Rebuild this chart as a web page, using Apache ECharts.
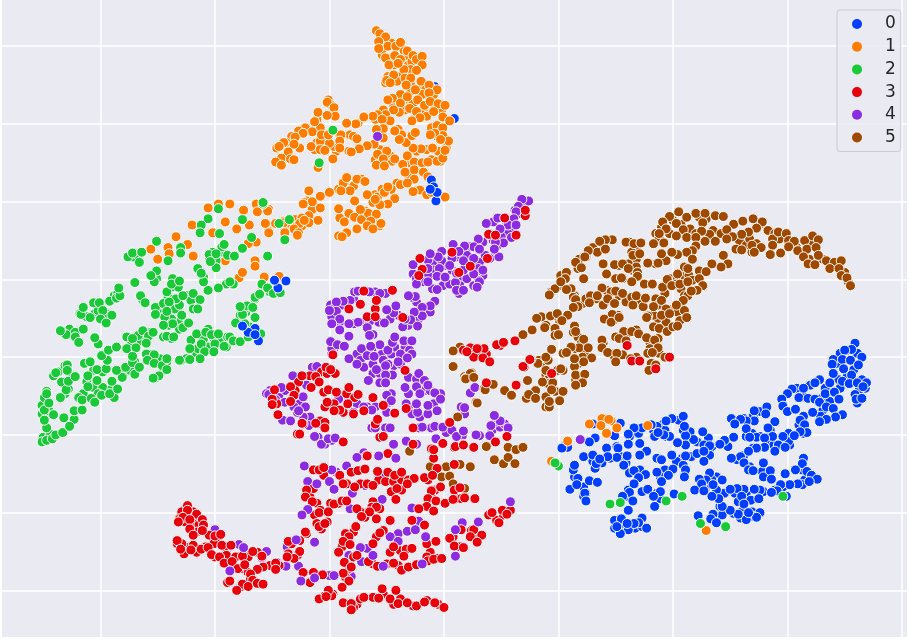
<!DOCTYPE html>
<html>
<head>
<meta charset="utf-8">
<script src="https://cdn.jsdelivr.net/npm/echarts@6/dist/echarts.min.js"></script>
<style>html,body{margin:0;padding:0;background:#fff}#main{width:909px;height:639px}</style>
</head>
<body>
<div id="main"></div>
<script>
// values, one list per class
const class0 = [[35.9,1.8],[35.6,1],[35,.9],[34,-.3],[34.8,-.3],[35.5,-.4],[36.5,0],[36.2,-1],[33.9,-.9],[34.9,-1.5],[34,-2.1],[35.6,-2.3],[34.8,-3.1],[35.4,-3.4],[36.1,-3.3],[36.9,-3.3],[36.6,-3.8],[36,-5.4],[36.5,-5.3],[32.8,-2.9],[32.4,-3.3],[33.7,-3.3],[31.4,-4],[30.4,-4.1],[30,-4.7],[29.5,-5.4],[29.6,-6.3],[30,-7],[30.7,-6.7],[31,-5.2],[31.8,-5.3],[32.4,-5.4],[33.3,-4.7],[32.8,-5.8],[33.4,-6.4],[32.2,-7.1],[34.1,-4.5],[34.5,-5.4],[34,-6.6],[34.8,-7.4],[34.2,-7.7],[33.4,-8],[32.8,-8.3],[31.1,-8.1],[31.5,-8.7],[28.2,-6.4],[27.1,-6.9],[28.1,-7.3],[27.1,-8.2],[28.9,-8.3],[26.4,-8.2],[25.9,-8],[25.4,-8.6],[26.4,-9.2],[28.3,-9.1],[28.7,-10.2],[27.3,-10.3],[28,-10.4],[26.7,-10.3],
[30.1,-10.8],[31.7,-9.7],[31.1,-9.6],[30.6,-10.1],[29.6,-10.2],[29.2,-11.3],[29.8,-11.6],[28.9,-12.1],[28,-11.6],[27.3,-11.7],[26.6,-12.1],[25.9,-12.8],[25.1,-13],[26.2,-13.6],[27.9,-13.6],[26.6,-14.5],[27,-14.6],[27.9,-15.4],[28.5,-14.6],[28.6,-15.7],[29.8,-15],[31.3,-13.7],[30.7,-14.5],[31.7,-14.7],[32.1,-15.2],[32.6,-15.7],[31.3,-16.4],[31.9,-16],[30.9,-16.3],[30.2,-16.4],[29.4,-16.4],[29.1,-17.2],[29.9,-17.9],[28.6,-17.4],[27.1,-17],[26.2,-17],[25.6,-16.9],[25,-17],[26,-17.9],[26.8,-18.4],[27.5,-18.2],[26.2,-18.9],[27.6,-20],[26.4,-20.9],[25.7,-20.2],[25,-19.7],[24.3,-19.2],[23.5,-20.2],[23.3,-20.8],[22.2,-20.4],[23.8,-21.3],[27.3,-20.6],[26.6,-20],[24,-18.2],[23.4,-17.9],[24.3,-15.8],[23.2,-14.9],[22.9,-15.8],[22.3,-15.7],[22.5,-16.3],[21.9,-17.1],[22.7,-17.2],[23.5,-16.4],
[25.3,-10.3],[24.8,-11.5],[24.5,-10.7],[24.1,-11.2],[23.2,-11.4],[22.6,-9.6],[22.7,-13.4],[22.1,-12.4],[22.7,-12.1],[21.8,-10.6],[21.1,-10.1],[21.1,-11.3],[21.1,-12.7],[19.9,-12.6],[19,-13.2],[20,-14.4],[19.6,-15.2],[21.1,-14.5],[21,-15.4],[20.9,-7.6],[19.9,-7.9],[19.4,-8.2],[21,-8.9],[20.4,-11],[19.7,-10.2],[19.2,-10],[18.6,-8.9],[18.7,-9.7],[18.1,-8.7],[17.3,-9.1],[16.6,-9.1],[16.1,-9.9],[14.9,-10.1],[13.2,-10.4],[12.7,-10.9],[14.2,-11.7],[15.2,-11.7],[16.1,-11.2],[17.1,-11.1],[17.7,-12.1],[17.1,-12.6],[16,-12.7],[15.1,-12.9],[14.3,-12.8],[15.7,-13.9],[16.6,-14.6],[17.6,-15.1],[18.6,-14.8],[17,-15.5],[19,-16],
[15.4,-8.5],[13,-8.6],[10.8,-11.6],[10.3,-11.7],[12.2,-12.8],[13,-12.6],[11.4,-13.9],[13.3,-13.7],[13.6,-13.1],[11.7,-15.6],[12.7,-15.9],[13.4,-16.1],[11,-17],[11.6,-16.4],[12.3,-17.5],[12.4,-18.5],[16.6,-16.3],[16.2,-17.4],[15.6,-17.9],[17.3,-17.3],[16.5,-18.5],[17.8,-17],[18.9,-17.3],[18.3,-17.9],[20.1,-17.6],[18.4,-19.2],[16.1,-19.7],[14.9,-21],[15.5,-20.8],[17.3,-20.7],[17,-21.3],[16.1,-22.2],[15.4,-22.7],[17.7,-22],[15.1,-21.8],[16.6,-21.4],[16,-21.4],[-.8,34.8],[.9,30.7]];
const under0 = [[35.2,.9],[36.1,.5],[34.6,.5],[34.3,-.8],[35.8,-1.6],[35.2,-2.5],[34.5,-2.9],[36.5,-2.9],[36.8,-4],[36.2,-4.4],[35.9,-4.8],[36.1,-5.9],[34.6,-4],[34.1,-4.6],[33.3,-4],[32,-3.6],[30.8,-4],[29.6,-6.1],[31.4,-5.1],[33,-5.3],[33.7,-5.7],[33.1,-6.8],[32.9,-7.6],[31.4,-7.6],[31,-8.7],[31.4,-9.8],[27.6,-7],[27,-7.6],[26.2,-7.9],[25.1,-7.9],[26.9,-9.8],[27.6,-10.2],[26.4,-10.2],[28.5,-9.4],[28.2,-11.1],[28.8,-11.3],[30.1,-9.8],[29.7,-11.1],[30.2,-11.3],[27,-11.7],[25.6,-13.2],[26.2,-12.6],[26.7,-14.1],[27.8,-14.7],[31.4,-13],[31.3,-14.5],[31.9,-15.4],[31.5,-15.8],[29.6,-16.7],[28.9,-17.1],[27.9,-17.3],[27.6,-17.1],[26.4,-17.5],[25.4,-17.5],[25.7,-18.6],[26.9,-19.9],[26,-19.9],[25.3,-20.1],[24.5,-19.9],[24.1,-19.2],[24.3,-20.3],[27,-20.5],[25.9,-20.7],[24.5,-17.5],[23.8,-17.1],[22.8,-17.1],[22.9,-16.4],[23.8,-15.4],[23.4,-15.8],
[21.2,-10.2],[21.5,-9.6],[20.9,-9.4],[22.1,-10.9],[23.1,-10.4],[23.4,-11.5],[22.7,-11.3],[23.2,-12.6],[21.6,-12.8],[20.8,-13],[20.3,-13.4],[18.6,-13],[19.3,-14.5],[18.6,-14.9],[18.9,-15.4],[20.9,-13.9],[20.5,-8.1],[19.2,-8.5],[18.3,-9.4],[19.3,-9.4],[18.4,-10.2],[19.4,-10.2],[16.2,-10.2],[17,-9.8],[15.1,-11.5],[15.4,-12.8],[14.5,-13],[15.9,-13.6],[16.2,-14.9],[17.1,-14.5],[13,-13.4],[13.2,-14.3],[13.8,-13.6],[12.2,-16.7],[12.4,-17.5],[12.2,-17.9],[11.4,-15.4],[11.3,-14.5],[10.6,-11.3],[16.1,-17.1],[15.9,-17.9],[18.6,-17.5],[18.9,-18.2],[14.9,-22],[15.4,-22.2],[16.7,-22],[17.3,-21.8],[15.7,-21.4]];

const class1 = [[-5.9,42],[-5.6,41.6],[-5.1,41.2],[-5.7,40.6],[-5.4,39.6],[-4.9,40],[-4.2,40],[-3.8,40.5],[-3.2,39.4],[-5.7,39.7],[-5.1,38.5],[-4.3,38.8],[-3.8,38.3],[-4.8,37.6],[-3.5,37],[-4,37.8],[-2.7,38.8],[-2.4,38.3],[-1.9,38.7],[-1.9,37.6],[-2.4,36.9],[-4.4,36.3],[-5,35.6],[-4.7,35.3],[-3.4,35.9],[-2.9,35.9],[-2,35.5],[-3.3,35],[-2.5,34.4],[-1.3,35],[-.6,34.4],[-1.3,34],[-3.8,33.8],[-4.5,33.3],[-4.9,33.1],[-3.8,32.7],[-2.3,33.1],[-3.2,33.5],[-1.7,32.4],[-1.2,32.9],[-.5,32.6],[.1,32.4],[-3,32],[-3.9,31.5],[-4.4,31.8],[-5.1,31.2],[-5.8,31.2],[-6.2,31],[-7,30.9],[-4.7,30.4],[-5.4,30.6],[-2.4,31.6],[-1.5,31],[-2.1,30.8],[-2.8,30.4],[-.9,31.6],[-.1,30.9],[.5,30.4],[-.6,29.8],[-.1,29.5],[-.1,28.5],[-.8,28.8],[-1.2,28.6],[.4,27.8],[-.3,28],[-1,26.9],[-2,26.8],[-2.7,26.9],[-3.3,27.6],[-2.8,28.5],[-2.5,28.9],[-3.9,28],[-4.3,29.1],[-5.3,29.4],[-5.9,29.3],[-5.3,28.2],[-6.1,27.4],[-6.7,27.2],[-7.4,26.8],[-8.1,26.4],[-5,26.5],[-5.8,26.1],[-5.3,25.5],[-4.3,25.5],[-5.9,24.7],[-5.2,24.6],[-3.2,25.9],[-2.6,25.1],[-1.9,25],[-1.4,25.1],[-.6,25.2],[-.1,25.6],[.1,26.6],[-2.6,24.1],[-3.4,23.8],[-1.8,23.8],[-1.4,23.2],[-2.6,22.9],[-3.8,22.2],[-3.2,22.4],[-2.1,21.5],[-2.7,21.3],[-1.5,20.9],[-1.1,21.2],[.1,20.6],
[-7.7,30],[-8.5,30.1],[-7.6,28.1],[-9,28.6],[-9.1,27.8],[-10,27.5],[-11,31.5],[-10.2,32.8],[-9.6,32.1],[-9.5,31],[-10.2,31.1],[-11.3,30.3],[-11.5,29],[-12.3,28.8],[-13,28.3],[-13.1,27.4],[-10.7,28.6],[-10.1,28.6],[-11.6,27.1],[-10.8,26.7],[-10.4,26.6],[-13.6,26.4],[-14,27.6],[-14.4,27.1],[-14.2,25.6],[-13.4,25.5],[-14.7,25.1],[-14.2,24.7],[-13.1,25.4],[-9.7,25.5],[-9.1,26.9],[-11,24.4],
[-11.8,21.4],[-12.2,19.9],[-11.5,20],[-10.8,20.7],[-10,21.2],[-10.8,19.2],[-11,17.6],[-11.8,17.3],[-12.4,17.9],[-12.6,17.2],[-13.1,16.5],[-12.7,16],[-13.9,16.2],[-14.6,17.3],[-15.3,19],[-15.6,17.2],[-15.3,16.2],[-8.8,22.4],[-8.2,21.4],[-9,21.4],[-8.5,23.1],[-7.6,22.9],[-6.9,22.6],[-6.7,20.9],[-5.8,20.6],[-5.2,21.2],[-4.9,21.9],[-4.3,20.4],[-4.9,19.7],[-5.6,19.6],[-6,20.3],[-7.8,20.1],[-9.2,19.1],[-8.3,18.5],[-7.8,18],[-7.2,17.7],[-6.6,18.5],[-5.9,18.4],[-5.5,17.2],[-6.4,17.5],[-8.7,17.4],[-6.7,16.9],[-7.6,16.5],[-8.9,15.5],[-7.3,19],[-6.2,16.5],
[-25.6,13.9],[-25,12.6],[-24.1,14.1],[-24,13.3],[-23.4,15.5],[-22,17],[-21.9,13],[-22.4,14.5],[-20.6,19.2],[-19.7,19.7],[-18.7,19.7],[-20.2,16],[-19.1,17.4],[-18.1,16.5],[-17.5,18.9],[-17,17],[-16.4,19.7],[-16.3,18.7],[-15.4,18.8],[-15.6,17.2],[-15.3,16],[-14.7,17.2],[-14,17.3],[-13.9,16],[-12.8,15.7],[-12.3,19.7],[-12.2,17.6],[-16.4,14.8],[-17.1,14.6],[-19.1,12.4],[-17.9,10.2],[-17.6,10.9],[-16.5,12.4],[-16.5,11.7],[-15.7,10.3],[-14.4,10.4],
[13.8,-7.9],[14.6,-8.2],[13.7,-8.8],[14.2,-9.8],[12.7,-8.6],[15.1,-9.1],[17.8,-8.8],[10.8,-10.8],[9.4,-13.4],[22.9,-22.3],[14.4,-8]];
const under1 = [[-5.4,40.8],[-5.1,40.2],[-4.6,40.4],[-3.5,39.5],[-3.2,38.7],[-4.5,38.5],[-5.4,38.9],[-4.4,37.6],[-3.1,37.6],[-2.8,38],[-2.1,38],[-2.9,37],[-3.8,36.1],[-4.9,36.1],[-5.1,35.3],[-4.1,35.5],[-2.9,35],[-2,34.6],[-1.6,34.4],[-1.1,34.6],[-2.9,34.2],[-3.5,33.1],[-4.4,32.5],[-2.7,32.7],[-1.9,33.8],[-.9,33.8],[-.8,32.1],[-.2,31.8],[-1.8,31.8],[-3.4,31.8],[-5.3,31.8],[-6,30.6],[-5.1,30.3],[-4,29.3],[-3.7,28.6],[-1.1,29.5],[-.6,28.4],[-.1,28.6],[.2,26.9],[-1.5,26.7],[-.5,26.5],[-2.4,26.5],[-.3,25.2],[-2.9,25],[-1.1,25.4],[-5.6,26.7],[-6,25.4],[-4.7,25.9],[-4.5,25.2],[-5.6,25],[-3.6,24.8],[-3.1,23.3],[-4.1,22.4],[-2.4,21.4],[-7.3,26.9],[-8.3,26.5],[-9.4,26.5],[-9.2,27.4],[-9.6,27.1],[-9.1,28.6],[-8.2,28.6],[-7.9,28.4],[-7.5,30.1],[-10.2,28],[-11.1,27.6],[-11.3,26.7],[-10.8,27.8],[-12.1,29.5],[-12.7,29.1],[-13.3,28.4],[-12.6,26.9],[-13.8,27.6],[-14.6,26.9],[-14.3,25.2],[-10.1,33.1],[-9.9,32.5],[-11.1,30.6],[-10.8,29.5],
[-8.9,22.4],[-9.2,21.6],[-8.6,22],[-7.9,22],[-7.2,22.9],[-6,20.9],[-5.4,21.6],[-4.6,21.6],[-6.2,19.9],[-7.3,18.2],[-6.9,18.8],[-6.2,18.2],[-6,17.1],[-5.6,16.9],[-9.2,15.6],[-8.5,16],[-9.1,17.9],[-11.4,19.7],[-12,20.1],[-11.5,19],[-12.3,17.7],[-13,17.7],[-12.4,16.9],[-14,17.5],[-13.4,17.1],[-11.8,18.2]];

const class2 = [[-35.1,-10.9],[-34.7,-10.7],[-34.2,-10.5],[-33.9,-10],[-33.3,-9.7],[-34.7,-9.1],[-34.9,-8.1],[-34.1,-7.4],[-33.2,-7.8],[-32.3,-8],[-32.7,-8.9],[-32.3,-6.9],[-31.6,-6.8],[-34.9,-6.8],[-34.5,-5.9],[-34.7,-4.7],[-33.5,-5.2],[-33,-4.2],[-32.8,-3.1],[-32.9,-1],[-32.9,-1.7],[-33.9,-2],[-32.2,-2.5],[-31.1,-2.4],[-30.9,-.6],[-30.3,-1.6],[-30.3,-3],[-31.1,-3.8],[-31.6,-5.5],[-30.8,-5.3],[-30.5,-5.8],[-29.9,-4.9],[-29,-3.1],[-29.2,-4.7],[-28.5,-4.1],[-28.1,-2.6],[-28.6,-1.7],[-27.8,-1.3],[-29.5,-1.5],[-27.2,-.7],[-27,-2.2],[-26.6,-1.3],[-29.4,-.4],[-29.9,.2],[-29.3,.9],[-28.6,1.3],[-30.2,1.7],[-30.5,2.5],[-27.7,2.6],[-27.2,2.4],[-26.3,3.4],[-25.8,2.7],[-26,1.8],[-27.7,1.1],[-26.9,1.2],[-27.2,.1],[-26,.4],[-25.3,.3],[-25.9,-.4],[-25.3,-.8],[-24.6,-1.1],[-24.2,-.2],[-24.2,-1.6],[-24.9,-2.4],[-25.4,-2.7],
[-33,2.9],[-33.5,3.4],[-32.2,2.6],[-31.9,1.9],[-31.5,3.6],[-30.9,5.1],[-31.7,5.5],[-31.5,6.4],[-30.6,7],[-30.1,7],[-29.8,6],[-30,4.9],[-29.5,4.4],[-29,5.4],[-29.2,7.2],[-28.6,7.6],[-28.3,7.9],[-28.4,8.9],[-27,9.6],[-26.5,7.9],[-26.1,7],[-25.2,6.4],[-25.2,5.5],[-24.5,6.9],[-24.2,8.4],[-23.8,9.4],[-23.1,9.8],[-23.4,7.5],[-22.8,7.9],[-21.9,8.2],[-21.3,7.4],[-21.5,6.2],[-24,7.1],[-22.9,5.4],[-24.2,5.9],[-23.7,4.3],[-24.5,4.1],[-22.8,3.8],[-22.3,4.4],[-24.2,2.7],[-23.6,2.6],[-25.4,3.2],[-22.1,2.2],[-21.6,3],[-20.8,3.2],[-20.3,2.9],[-19.7,3],[-21.2,1.7],[-20,1.7],[-20.9,.7],[-20.1,.7],[-22.2,1.1],[-21.3,-.2],[-22.2,-.3],[-23.1,-.4],[-19.2,1.4],[-18.7,2.6],[-18.4,2.1],[-17.8,2],[-17.4,4.3],[-17.1,2.6],[-16,3],[-18.2,4.4],[-17.6,5.5],[-16.5,5.1],[-17.2,6.6],[-16.7,6.4],[-17.8,6.5],[-16.5,7.7],[-16.1,8.1],[-15.9,9.4],[-15.4,8.9],[-14.9,8.2],[-14.3,8.3],[-18.7,9.7],[-19.7,8.9],[-20.6,8.6],[-21,9.7],[-21.2,10.8],[-19.9,11.5],[-20.5,13.2],[-20.4,12.3],[-19.9,13.3],[-19.2,14.5],[-18.3,13],[-17.6,14],[-16.8,15.4],[-17.6,17.7],[-15.8,19.7],[-15.4,13],[-19.7,19.1],[-20.6,17.8],[-21.2,17],[-21.3,16],[-19.6,15.9],[-23,14.1],[-23,13.4],[-25.1,14.9],[-25.1,11.1],[-25.3,9.7],[-25.6,10.5],[-27.2,13.4],[-26.4,13.5],[-26.6,12.2],[-24.1,12.4],[-13.5,17.7],[-13.9,15.1],
[-9.7,29.2],[-10.9,25],[-14.4,17.2],[-15.8,19.9],
[10,-14],[9.7,-13.6],[15.4,-18.7],[14.5,-18.9],[22.4,-21.4],[24.6,-21.8],[29.6,-17.9],[19.4,-18.5],[20.8,-17.9]];
const under2 = [[-35,-10.3],[-34.4,-9.9],[-35.1,-6.2],[-35.1,-7.3],[-34.5,-6.9],[-34.9,-5.2],[-34.7,-4.4],[-33.1,-4.7],[-32.8,-4.1],[-33.4,-3.2],[-32.5,-2.6],[-34.1,-2.4],[-33.7,-1.9],[-33.1,-1.1],[-31.5,-4.7],[-31.9,-5.2],[-31.2,-3.2],[-30.6,-3.9],[-29.8,-3.9],[-30.2,-4.7],[-28.8,-5.2],[-29,-4.1],[-28,-2.1],[-27.4,-1.7],[-27,-.6],[-31.4,-.8],[-29.8,-1.9],[-30.6,-1.7],[-26.6,2.1],[-26,2.6],[-25.6,3.2],[-26.7,2.8],[-27.3,1.7],[-25.4,.4],[-24.8,-.2],[-24.2,-.6],[-25.1,-2.6],[-24.5,-1.7],[-22.9,-.4],[-22.5,-.2],[-21.6,.4],[-20.6,1.3],[-21,2.4],[-21.5,1.1],[-19.6,2.1],[-19,1.3],[-18.9,2.6],[-20.2,2.6],[-20.6,3.6],[-24,4.1],[-23.2,4.5],[-23.8,4.9],[-23.1,3.6],[-24.5,2.6],[-23.8,2.4],[-23.5,6.2],[-23.1,6.7],[-24.1,7.7],[-23.8,9],[-23.7,10.1],[-23.2,9],[-22.5,7.9],[-22.1,7.3],[-21.9,6.2],[-24.8,5.6],[-24.4,5.2],[-26.3,7.3],[-31.8,5.6],[-31.2,5.2],[-30.5,5.6],[-30.2,6],[-29.5,5.6],[-32.7,3.6],[-32.2,3.2],[-33.3,3.2],[-28.8,7.9],[-28.5,8.2],[-27.2,12.9],[-26.7,13.1],[-27.6,12.9],[-25.4,10.7],[-25.1,10.1],[-20.5,12.4],[-19.9,12.4],[-20.2,13.5],[-19.3,13.5],[-18.9,13.1],[-19.4,14.2],[-21.5,11.4],[-21,10.3],[-19,9.4],[-18.4,9.4],[-16.5,7.5],[-15.8,8.8],[-15.2,8.4],[-14.7,8.6],[-17.3,5.8],[-17.8,5.4],[-17.4,6.2],[-17,3.9],[-17.7,4.3]];

const class3 = [[-4.5,8.6],[-7,8.5],[-6,6.2],[-8.3,6.2],[-7.3,6.8],[-5.9,7.3],[-6.7,5.2],[-6,5.2],[-3.6,5.1],[-9.7,.3],[-2.1,12.7],[-1.9,11.3],[-2.2,10.5],[.7,13.5],[1.3,10.9],[2.3,11.7],[3.9,15.8],[4.5,15.7],[5.3,17.9],[7.1,18.2],[6.3,15.7],[3.8,12.7],[7.1,18.9],
[-12.4,-2.4],[-11.2,-2.5],[-10.3,-1.3],[-9.9,-1.6],[-10.9,-3.2],[-11.6,-3.9],[-13.4,-3.8],[-14.8,-4.2],[-13.1,-4.9],[-13.4,-5.7],[-15,-6.1],[-14.5,-7.4],[-12.4,-8.5],[-11.2,-8.5],[-12.6,-9.9],[-10.4,-9.1],[-9.1,-6.8],[-9.6,-6.9],[-10.2,-5.8],[-10.1,-4.2],[-9.4,-4.5],[-8.3,-3.9],[-7.5,-4.8],[-8.4,-6],[-7.9,-7.3],[-7,-6.9],[-6.2,-5.2],[-5.3,-6.2],[-4.3,-7.2],[-5.8,-8],[-3.3,-6.6],[-5.3,-10.2],[-2.7,-9.1],[.5,-8.4],[-.1,-11.1],[-1.1,-11.8],[-2.7,-11.2],[-4.9,-12.4],[-6.8,-12.7],[-8.8,-10.9],[.9,-11.6],[1.7,-11.2],[4.5,-10.9],[5.5,-10.2],[2.6,-11.6],
[2.3,1.2],[3.5,1.1],[4.6,1.6],[5.2,1.9],[6.2,2.1],[2.6,0],[3.4,-.1],[4,-.6],[2,.7],[2.9,1.1],[7,-1.3],[6.3,-3.6],[3.7,-3.3],[-3.4,-1.7],[7.5,-.3],[6.9,-1.2],[16.4,-.5],[17.1,-.5],[18.5,-1.5],[19.7,0],[9.4,-2.1],[16,1.5],
[-22.4,-19.1],[-22.4,-19.7],[-21.6,-20.2],[-21.1,-20.9],[-22.8,-20.6],[-22.2,-20.9],[-23.2,-21.2],[-21,-21.6],[-22.2,-22.1],[-21.1,-22.3],[-21.9,-22.9],[-20,-23],[-19.5,-22.8],[-22.9,-24],[-23.3,-23.6],[-22.1,-24.8],[-23,-24.7],[-21.2,-24.7],[-20.6,-24.5],[-19.4,-24.2],[-18.6,-24.2],[-20.3,-25.4],[-19.6,-25.7],[-19.2,-26.5],[-18.5,-26.3],[-17.6,-25.6],[-18,-27.2],[-17.4,-26.7],[-16.7,-25],[-15.9,-25.6],[-15.8,-27],[-16.3,-27.3],[-14.7,-26.5],[-14.7,-27.3],[-13.6,-23.7],[-12.6,-25],[-13.1,-25.9],[-13.7,-25.7],[-16.9,-27.9],[-16.7,-28.7],[-18.7,-28.8],[-17.6,-29.2],[-17.1,-29.5],[-18.1,-30],[-16.3,-29.1],[-15.8,-29.2],
[-12.1,-22.5],[-10.9,-21.8],[-10.9,-20],[-10.1,-19.9],[-10.4,-21.4],[-12.1,-18],[-11.5,-18.6],[-10.9,-14.5],[-10.5,-14.2],[-9.6,-18.9],[-8.9,-18.5],[-8.5,-18.5],[-8.8,-16.3],[-7.8,-16.7],[-6.2,-16.5],[-8.1,-14.8],[-7.5,-14.6],[-6.9,-14.4],[-5.8,-14.7],[-4.9,-14.8],[-4.3,-15.2],[-3.7,-14.8],[-2.6,-15.6],[-1.7,-15.5],[-1,-15.2],[-4.1,-16.9],[-4.2,-18.3],[-3.2,-16.3],[-6.7,-12.7],[-4.9,-12.4],[-.9,-13],[-.9,-11.9],[-.1,-11.1],[1,-11.5],[1.7,-11.3],[.9,-13.8],[-.3,-16.7],[-1.1,-17.2],[-1.4,-18.2],[-.7,-18.5],[.1,-18.8],[-1.5,-19.2],[-.9,-19.8],[.8,-18.3],[1.8,-18.1],[2.7,-18.2],[1.4,-16.8],[-2.2,-19.5],[-2.8,-21],[-1.7,-21.6],[-4.7,-21],[-7.6,-19.5],[-5.9,-19.3],[-6.5,-19.9],[-7.2,-20.5],[-5.9,-20.8],[-7.7,-21.8],[-8.3,-23.1],[-8.8,-23.7],[-8.2,-24.1],[-9.2,-25.1],[-8.7,-26.4],[-7.6,-25.5],[-8.1,-27],[-8.8,-27.8],[-8.3,-28.8],[-8.9,-29.6],[-6.6,-26.3],[-5.8,-26.9],[-4.4,-26.5],[-3.7,-27.4],[-3.1,-27],[-2.4,-26.7],[-5.6,-22.6],[-6.2,-24],[-4.4,-24.4],[-3.3,-24.7],[-2.8,-24.6],[-1.5,-24],[-.7,-23.7],[-3.5,-25.6],[-1.4,-26.2],[-.9,-26],[-.2,-25.9],[.5,-23.3],[.9,-24.3],[1.7,-24.5],[1.5,-22.2],[2.6,-22.2],[2.3,-23.1],[3.3,-22.9],[2.9,-23.8],[4.8,-21.3],[4.2,-20],[5.5,-20.2],[-12.3,-27.7],[-11.4,-27.7],[-10.6,-28],[-11.7,-29],
[-10.9,-31.1],[-9.8,-30.7],[-10.1,-30],[-10.3,-30.8],[-8.8,-31.6],[-8.1,-31.7],[-8.1,-32.5],[-7,-30.9],[-5.7,-31],[-5.4,-29.8],[-4.7,-31.1],[-4.2,-30],[-4,-31.7],[-3.2,-31.6],[-2.4,-32],[-1.7,-31.5],[-.8,-31.6],[0,-32.2]];
const under3 = [[-22.6,-19.5],[-22.9,-19.9],[-21.9,-19.9],[-21.4,-20.8],[-23.1,-20.8],[-22.6,-21.2],[-21.9,-21.4],[-21.4,-21.6],[-21.6,-22.5],[-20.5,-22.9],[-19.8,-23.4],[-23.3,-24],[-22.6,-24.4],[-21.9,-24.2],[-22.7,-25.3],[-21.6,-25.1],[-20.8,-24.4],[-20.1,-24],[-19.1,-24.4],[-20,-25.7],[-19,-25.5],[-18.2,-25.7],[-17.1,-25.7],[-16.3,-25.1],[-18.5,-27.2],[-17.6,-27.2],[-17.1,-27.7],[-16.9,-28.5],[-18.9,-29],[-17.8,-29.6],[-15.2,-26.8],[-14.4,-26.8],[-13.6,-25.3],[-13.3,-24],[-12.8,-25.5],[-12.6,-23.6],[-12,-22.7],
[-11.7,-18],[-11.1,-18.8],[-10.8,-19.7],[-11.3,-20.3],[-11.1,-21.4],[-10.7,-22.1],[-10.2,-21.2],[-9.9,-18.8],[-9.2,-18.8],[-11.4,-16.9],[-12,-17.1],[-11.4,-14.5],[-10.5,-15.2],[-9.1,-15.2],[-8.5,-16.3],[-7.3,-16.3],[-6.7,-16.3],[-5.7,-15.8],[-5.1,-16],[-4.4,-16],[-3.7,-15.8],[-3.1,-15.8],[-4.6,-17.3],[-3.7,-17.1],[-6.2,-18.6],[-6.3,-19.3],[-7.3,-19.9],[-6.9,-20.6],[-5.6,-19.5],[-7.9,-22.5],[-8.6,-22.7],[-8.9,-24.4],[-7.9,-25.7],[-8.3,-27.2],[-8.6,-28.3],[-5.3,-22.3],[-5.9,-23.1],[-4.7,-25.1],[-3.8,-24.9],[-1.2,-25.1],[-1.5,-25.7],[-.6,-25.9],[-2.1,-26.6],[-4,-26.8],[-5,-26.6],[-6.2,-26.6],[.8,-23.1],[1.4,-24.4],[2.4,-22.3],[2.7,-23.4],[3.9,-20.3],[4.6,-21],[5.2,-20.3],[5.1,-19.7],[5.8,-19.7],[-.6,-14.3],[-1.4,-15.8],[-.8,-17.1],[-1.1,-18],[1.1,-18.2],[1.5,-18.2],[.9,-17.1],
[-10.4,-30.7],[-9.7,-30.5],[-7.6,-31.8],[-7.3,-31.1],[-6.2,-30.9],[-5.3,-30.5],[-4.4,-31.8],[-3.8,-31.1],[-2.7,-32],[-1.5,-31.3],[-.5,-31.8],[-7.9,-32.2],
[-12.7,-3.2],[-13,-4.3],[-11.7,-2.4],[-10.7,-1.9],[-10.2,-2.1],[-9.5,-2.1],[-10.5,-4.5],[-10.4,-6.4],[-9.6,-6],[-8.5,-4.7],[-7.8,-5.2],[-8.8,-7.1],[-10.8,-8.2],[-12.3,-8.6],[-12.8,-9.9],[-10.4,-8.4],[-14.6,-6],[-15,-5.4],[2.6,.9],[3.1,.4],[1.7,.9],[3.7,.4],[4.9,1.5],[-6,-8.6],[-5.6,-10.3]];

const class4 = [[7.4,20.1],[6.8,20.3],[6.5,19.4],[6.3,18.7],[6.1,17.8],[5.6,17],[4.7,17.9],[3.7,17.2],[4.9,16.5],[6.3,17],[5.9,15.4],[5.2,14.7],[4.5,14.8],[3,15.2],[2.6,14.2],[1.8,14.3],[.8,14.5],[1.3,13.6],[-.2,13.6],[.7,12.7],[-.2,12.4],[-1.4,12.5],[-2.7,11.9],[-1.4,11.4],[-.4,11.4],[-.6,10.4],[.5,11.8],[.1,10.3],[-1.4,9.7],[-2.4,9.4],[-.6,8.7],[1,9.6],[1.1,8.6],[1.7,8.6],[2.6,12.7],[2.6,10.7],[3.1,9.7],[2.9,9],[4,12.7],[4.8,12.9],[4.4,13.9],[3.1,13.9],[3.4,11.2],[1.7,12.4],[1.1,10.8],[-.5,12.9],[-1.2,13.3],
[-2.5,7.8],[-3.1,7.9],[-.8,7.2],[-1.2,6.6],[-1.9,6.4],[-1.9,5.3],[-2.6,5.8],[-2.9,4.8],[-2.3,4],[-3.6,3.9],[-3.4,4.9],[-4.4,5.7],[-4.2,6.6],[-5,6.1],[-5.2,4.4],[-6.5,4.6],[-6.7,3.8],[-7.5,4.5],[-8.3,4.3],[-6.2,2.9],[-6.5,2.8],[-5.6,8.2],[-6.5,8.4],[-7.5,8.5],[-8.2,7.3],[-8.8,7.2],[-9.4,7.1],[-9.4,5.9],[-10,6],[-9.1,4.9],[-9.8,4.3],[-9.1,3.5],[-8.3,2.7],[-9.9,2],[-9.3,1.6],[-8.7,1.4],[-8.3,-.2],[-7.2,1.1],[-7.6,-.9],[-6.7,.2],[-6.1,.1],[-5.6,1.6],[-6.4,1.4],[-4.9,.9],[-4.5,1.9],[-4.3,2.6],[-3.5,2.1],[-2.8,2.1],[-3.8,.4],[-3.2,-.1],[-4,-.6],[-5.1,-1.1],[-5.9,-1.6],[-4.5,-2.3],[-5.1,-2.3],[-6.6,-3],[-5.6,-3.3],[-5.1,-3.3],[-3.4,-3.9],[-2.2,-2.1],[-1.7,-3],[-1.4,-3.6],[-2.4,-3.8],[-2.1,-4.7],[-.8,-4.6],[-.3,-5.4],[-5,-4.9],[-4.6,-5.6],[-3.3,-6],[-2.3,-7.1],[-1.4,-7.3],[-.6,-6.9],[-1.4,-6.2],[-2.4,-6],
[-11.5,-1.3],[-11.1,-1.2],[-13.2,-2.4],[-12,-3.6],[-14.2,-3.9],[-15.3,-4.8],[-14.7,-5.5],[-14.1,-8.1],[-13.4,-8.2],[-12.7,-6.9],[-12.3,-5.1],[-9.2,-5.4],[-13.9,-5.8],[-11.8,-8.8],[-11.3,-10.2],[-10.7,-11.2],[-10.1,-10.5],[-9.5,-10.4],[-7.9,-7.1],[-7,-6.4],[-6.3,-6.8],[-5,-7.1],[-6,-9.1],[-4.7,-9.1],[-1.9,-9],[-.8,-8.9],[-.1,-9],[-.7,-10.5],[.7,-9.4],[1.1,-10.2],[1.7,-9.5],[2.8,-10],[4,-10.1],[4.1,-8.8],[4.9,-8.2],[5.6,-9.1],[4.4,-7.5],[1.8,-6.5],[2.3,-4.6],[2.7,-3.9],[-3.3,-10.8],[-2.4,-11.2],[-4.4,-11.2],
[-11.3,-14.5],[-9.4,-14.8],[-9.8,-14.5],[-11.9,-16],[-8.5,-14],[-7,-12.3],[-5.3,-15.5],[-6.9,-16.5],[-8,-17.5],[-5.4,-18.3],[-13.7,-24.4],[-13.8,-26.9],[-12.7,-26.9],[-10,-28.1],[-8.1,-28.2],[-7.2,-26.3],[-8.3,-25.5],[-6.7,-24.6],[-7.3,-24.5],[1,-25.6],[-4,-22.7],[-4.7,-23.1],[-4,-23.7],[-6,-23.2],[-2.2,-21.1],[-2.8,-19.4],[-4.7,-21.1],[1.6,-21.3],[-17.9,-24.1],[-15.5,-25],[-14.6,-26.4],[-15.9,-25.8],[-19,-25.3],[-20,-22.2],[-8.2,-19.5],[-9.8,-18.8],[11.9,-10.6],[-5.8,28.4]];
const under4 = [[7,19.5],[6.2,18.9],[6.6,18.5],[5.5,17.2],[4.3,17.4],[6,16.5],[5.6,15.9],[5,15.5],[4.7,14.4],[4.3,15],[3.4,14.8],[2.8,14.4],[2.3,14.2],[1.7,13.5],[1.1,12.9],[2,13.1],[3.1,12.2],[3.6,13.1],[4.4,13.1],[3,11.4],[3.4,10.5],[3,9.9],[2.6,9.2],[.7,11.2],[.1,11.8],[-.8,12.2],[-.9,11.2],[-1.4,10.5],[-1.8,9.7],[-2.7,10.7],[-2.4,10.1],[-1,8.8],[-.1,9.2],[.5,9.4],[1.4,9.9],[1.4,9.2],[1.3,8.2],[2,10.1],[1.7,11.2],
[-2.4,7.1],[-2.8,7.7],[-1.6,5.8],[-1.2,5.8],[-2.2,4.9],[-3.1,4.1],[-4,5.4],[-4.7,4.9],[-5.7,4.5],[-7,4.5],[-7.9,4.3],[-9.8,5.2],[-9.9,6.7],[-9.5,6.4],[-8.9,6.7],[-7.9,7.5],[-6,8.4],[-5.1,8.2],[-7.8,8.4],[-9.1,4.5],[-9.8,.4],[-9.5,1.3],[-9.8,1.1],[-7.6,.4],[-7.3,-.4],[-7,-1.3],[-6.2,-.9],[-6.3,.9],[-5.4,.4],[-5.3,-.4],[-4.6,.4],[-4.3,1.3],[-3.4,1.3],[-3,.9],[-3.4,0],[-6.2,-2.1],[-5.6,-2.1],[-4.4,-1.1],[-4.9,-.9],[-3.8,-.9],[-2.8,.4],[-3.1,-2.6],[-2.4,-2.8],[-3.1,-4.7],[-1.7,-4.3],[-1.2,-4.3],[-.3,-4.7],[-3.1,-6.4],[-2.1,-7.7],[-2.8,-7.3],[-.9,-6],[-4.6,-4.7],[-4.8,-5.8],[-6,-6.4],
[-12.8,-3],[-13.9,-4.3],[-15.2,-4.3],[-15.5,-4.7],[-14.4,-5.2],[-12.6,-6],[-13.1,-6.4],[-12.1,-6.4],[-11.7,-7.7],[-12.3,-7.7],[-12.8,-7.1],[-10.8,-8.6],[-11,-10.3],[-10.4,-11.2],[-9.8,-10.7],[-8.8,-4.9],[-6.7,-6.4],[-7.6,-6],[-6.3,-9.1],[-5.1,-9.1],[-2.2,-9.1],[-1.1,-9.1],[.2,-9.7],[1.6,-10.1],[4.2,-9.4],[4.9,-9],[4.4,-8.4],[5.3,-8.6],[3.1,-10.1],[1.8,-7.3],[1.5,-6.4]];

const class5 = [[20.5,18.7],[19.7,18.1],[21.2,18],[22,18.5],[22.8,18.5],[23.7,18.2],[24.4,18.1],[19.1,17.4],[20.3,17.2],[19.4,16.5],[20.9,16.4],[18.8,15.9],[20.3,15.6],[21.2,15.4],[22.6,17.3],[25.3,17.1],[26.1,17.5],[27,17.8],[27.8,17.4],[27.3,16.6],[26.6,16.1],[26,15.8],[24.7,16.4],[23.2,15.8],[22.5,16.2],[25.2,15.5],[24.7,15.2],[23.7,14.9],[22.8,14.9],[22,15.4],[22,14.3],[25.5,13.9],[26,13.8],[26.9,14.4],[27.7,14.1],[27.1,13.5],[28.7,15.2],[28.7,14.4],[28.5,13.2],[29.4,13.4],[29.2,16.1],[29.9,15.9],[30.1,15],[30.6,14.9],[30.1,14.2],[30.9,13.7],[31.5,15],[32.2,15.6],[32.7,15.1],[31.7,13.9],[32.5,14.1],[31.4,12.9],[31.8,12],[32.4,11.9],[32.7,13.1],[33.4,12.4],[34.1,12.2],[34.7,12.4],[33.7,11.4],[34.5,11.4],[34.7,10.5],[35.2,10.2],[35.5,9.2],[24.4,13.1],[24.8,12],[24.2,11.6],[23.4,12],[21.7,13.7],[21.2,13.5],[20.4,13.2],[19.9,13.5],[19,13.3],[21,11.6],[21.7,12.6],[19.2,14.7],[18.3,14.6],
[14.7,15.1],[14.1,15.1],[13.6,14.9],[13.4,13.5],[14.1,13.9],[12.6,13.7],[12.3,12.9],[11.5,12.2],[12,11.5],[10.7,10.9],[10.6,10.1],[12.2,10.1],[9.7,8.8],[9.2,8],[10.2,9.7],[11.1,8.8],[10.7,8.7],[11.3,7.7],[11.5,7.4],[11.7,6.5],[11.3,6.4],[12.8,7.9],[12.7,7],[13.9,12],[14.9,11.9],[14.2,10.7],[13.8,8.9],[13.4,7.9],[13.9,6.7],[15,8.5],[14.3,7.5],[14.9,6.9],[15.6,12],[16.1,11.4],[15.9,14.8],[16.6,14.6],[17.2,14.7],[16.5,13.1],[17.1,13.3],[17.8,12.1],[18.7,12.1],[16.9,10.9],[16.9,10.4],[15.5,10.2],[16.4,9.7],[17.5,9.4],[18.2,9.4],[15.6,8.2],[16.4,7.7],[16.5,6.7],[17.4,6.5],[16.8,7.9],[17.6,7.6],[19.1,9],[19,7.3],[18.3,6.5],[19.5,10],[20.4,10.7],[21.3,11.4],[22.3,11.1],[22.9,11],[19.9,9.2],[20.6,9.4],[21.3,9.7],[22.3,10.1],[22.6,9.2],[22.1,8.6],[21.6,8.5],[20.9,7.3],[21,6],[20.3,6.7],[19.4,6.2],[19,5.4],[19.7,5.6],[21.2,5.1],[17.8,5.3],[17.7,5.1],[14.7,5.5],[14,4.9],[14.6,4.5],[15.3,5.1],[15.7,3.3],[16.4,3.3],[17,3],[15.3,2.4],[15.9,2.1],[17.7,2.5],[18.4,2.2],[18.3,3.9],[18.8,3.7],[19.5,3.3],[20,3.9],[20.4,4],[18.7,1.2],[18.2,.6],[19.3,0],[18.5,-1],[17.9,-1.7],
[9.3,5.3],[9.9,5.6],[10.8,5.4],[10.3,4.7],[8.8,3.8],[9.7,3.7],[8.1,5],[11.4,4],[11.5,3.3],[9.7,2.8],[10,2.9],[12.2,2.3],[13.8,2.2],[13.8,1.2],[14.3,.6],[15.1,.5],[15,-.6],[16.3,-.2],
[7.7,3.5],[6.9,2.9],[11.8,1.2],[12.6,1.2],[11.1,1.3],[10.7,.6],[12.9,-.1],[12.2,-.6],[11.4,-.2],[8.9,0],[8.2,-.8],[9.4,1],[7.6,-.3],[8.9,-1.7],[10.2,-1.5],[9.5,-3.3],[8.6,-3.2],[11.5,-2.3],[12.3,-2.2],[12.1,-3.3],[11.5,-3.6],[9.4,-4.2],[10.4,-4.4],[10.1,-5.6],[9.2,-5.7],[8,-4.3],[7.4,-4.8],[8,-5.3],[7.3,-3],[5.3,-4.3],[5.9,-4.9],[2.8,-5.8],[4.3,-3.5],[3.5,-4.1],[2.4,-2],[1.9,-2.7],[.8,-1.2],[1.4,1.3],[.8,.8],
[-3,-12.1],[-1.2,-14.1],[-.2,-15.4],[.5,-15.3],[.8,-16.3],[1.8,-16.9],[2.3,-14.1],[1.4,-13.8],[.2,-14.1],[3.7,-11.5],[4.4,-13.2],[5.2,-13.7],[5.6,-12.9],[6.2,-13.7],[5.6,-11.6],[6.3,-11.9],[6.9,-11.6],[2.3,-2.1],[1.9,-2.8],[2.6,-2.6],[3.6,-4.2],[4.3,-3.5],[2.9,-5.9],[1.2,-7.7]];
const under5 = [[20,17.6],[19,16.7],[18.5,15.9],[18.8,15.4],[20.7,17.1],[19.7,15.9],[21.5,16.5],[22.9,17.8],[22.3,18],[22,15.9],[23.5,16.3],[24.2,15.9],[25.8,15],[26.4,14.4],[26.7,15.2],[27.3,14.6],[26.9,13.5],[27.6,17.1],[28.3,16.3],[28.9,15.9],[29.3,15.2],[30.8,14.1],[31.2,13.5],[32.1,14.6],[31.9,12.6],[33.1,12.6],[34.4,12],[35,10.9],[35.3,9.7],
[13.9,14.6],[13,14.1],[11.8,12.6],[12.4,12.9],[11.7,11.4],[10.2,10.5],[10.1,9.2],[9.4,8.4],[11.4,7.9],[12.1,6.9],[12.4,7.5],[13.3,7.5],[14.2,8.6],[14.6,8.4],[14.5,7.3],[15.3,7.9],[15.9,7.5],[16.4,7.1],[17.1,6.9],[15.9,7.1],[18.5,7.5],[18.7,6.7],[16.2,14.8],[16.8,13.9],[16.4,13.5],[16.8,12.6],[16.1,12],[15.3,11.8],[16.4,11.2],[16.8,11.6],[15.6,10.1],[15,10.1],[19.4,12.4],[18.5,12],[19.7,10.1],[20.4,10.1],[21,10.5],[21.4,10.5],[21.7,9.9],[20.7,8.8],[20.3,9.4],[19.3,8.2],[21,7.9],[21.3,7.9],[20.7,6.5],[20,6.2],[18.7,5],[19.4,4.5],[18.3,5.4],[20.4,5.8],[20.6,4.7],
[14.8,4.7],[15.2,5.4],[15,2.6],[16.2,3.2],[16.8,3.5],[18,1.8],[18,1.1],[18.8,.5],[18.7,2.4],[17.8,.5],[15.6,.3],[14.5,.5],[14.9,0],[13.9,1.8],[16.8,0],[18.1,-.8],[10.1,4.7],[9.7,5.4],[8.9,4.1],[8.5,5.2],[11.3,3.2],[11.7,2.6],[12,1.8],[11.5,1.1],[12.4,.7],[10.4,.5],[12.1,0],[11.8,-.8],[8.6,-.8],[8.3,-.4],[9.1,-.4],[8.9,-2.3],[10.4,-1.7],[9.9,-1.7],[9.2,-2.3],[9.1,-3.4],[11.4,-1.2],[11.5,-2.9],[9.7,-4.4],[8.9,-5.1],[8.9,-6.4],[7.9,-4.9],[7.2,-5.3],[9.2,-6.4],[1.8,-2.5],[2.5,-2.3]];

// the few points of each class that lie over the other classes
const top0 = [[-14.5,8.9],[-16.5,3.7],[-17.1,3.2],[-16.2,2.1],[-16.5,2.9],[-13.8,9.8],[-17.6,4],[-14.8,9.9],[-.7,20.1],[-1.1,22.8],[-.9,21.9],[-.6,21.2],[-1.2,21.6]];
const top4 = [[-12.2,-14],[-11.1,-16.3],[-10,-16],[-9.6,-17],[-7.6,-12.9],[-5.7,-12.7],[-4.2,-13],[-11.9,-19.6],[-12.4,-20.3],[-11.3,-23.8],[-12.9,-23.5],[-1.9,-26.6],[-3.2,-22.4],[-2.5,-22.2],[-1.6,-23.1],[5.8,-18.6],[1,-22.2],[3,-21.2],[-6.2,-25.5],[-5.3,-26.9],[-17.5,-24.5],[-18.7,-27.5],[-11.3,-28.4],[-12.5,-28.8],[-9.6,-28.1]];

const legendNames = ['0', '1', '2', '3', '4', '5'];
const palette = ['#023eff', '#ff7c00', '#1ac938', '#e8000b', '#8b2be2', '#9f4800'];
const xTicks = [-30, -20, -10, 0, 10, 20, 30, 40];
const yTicks = [-30, -20, -10, 0, 10, 20, 30, 40];

function scatter(name, data) {
    return {
        name: name,
        type: 'scatter',
        data: data,
        symbolSize: 10,
        itemStyle: { color: palette[+name], borderColor: '#fff', borderWidth: 1, opacity: 1 }
    };
}

var myChart = echarts.init(document.getElementById('main'), null, { renderer: 'canvas' });
myChart.setOption({
    animation: false,
    backgroundColor: '#fff',
    grid: { left: 2, top: 0, width: 905, height: 637, show: true, backgroundColor: '#eaeaf2', borderWidth: 0 },
    xAxis: {
        type: 'value', min: -38.6, max: 40.44,
        axisLine: { show: false }, axisLabel: { show: false },
        axisTick: { show: false, customValues: xTicks },
        splitLine: { show: true, lineStyle: { color: '#fff', width: 1.5 } }
    },
    yAxis: {
        type: 'value', min: -36, max: 45.95,
        axisLine: { show: false }, axisLabel: { show: false },
        axisTick: { show: false, customValues: yTicks },
        splitLine: { show: true, lineStyle: { color: '#fff', width: 1.5 } }
    },
    legend: {
        data: legendNames,
        orient: 'vertical',
        left: 837, top: 10,
        padding: [5, 5, 5, 15],
        itemWidth: 26, itemHeight: 10, itemGap: 4.7,
        icon: 'circle',
        backgroundColor: 'rgba(234,234,242,0.8)',
        borderColor: '#cccccc', borderWidth: 1, borderRadius: 3,
        itemStyle: { borderWidth: 0 },
        textStyle: { fontFamily: 'DejaVu Sans', fontSize: 17, color: '#262626', lineHeight: 18, padding: [0, 0, 0, 10] }
    },
    series: [
        scatter('0', under0.concat(class0)), scatter('1', under1.concat(class1)), scatter('2', under2.concat(class2)),
        scatter('4', under4.concat(class4)), scatter('5', under5.concat(class5)), scatter('3', under3.concat(class3)),
        scatter('0', top0), scatter('4', top4)
    ]
});
</script>
</body>
</html>
